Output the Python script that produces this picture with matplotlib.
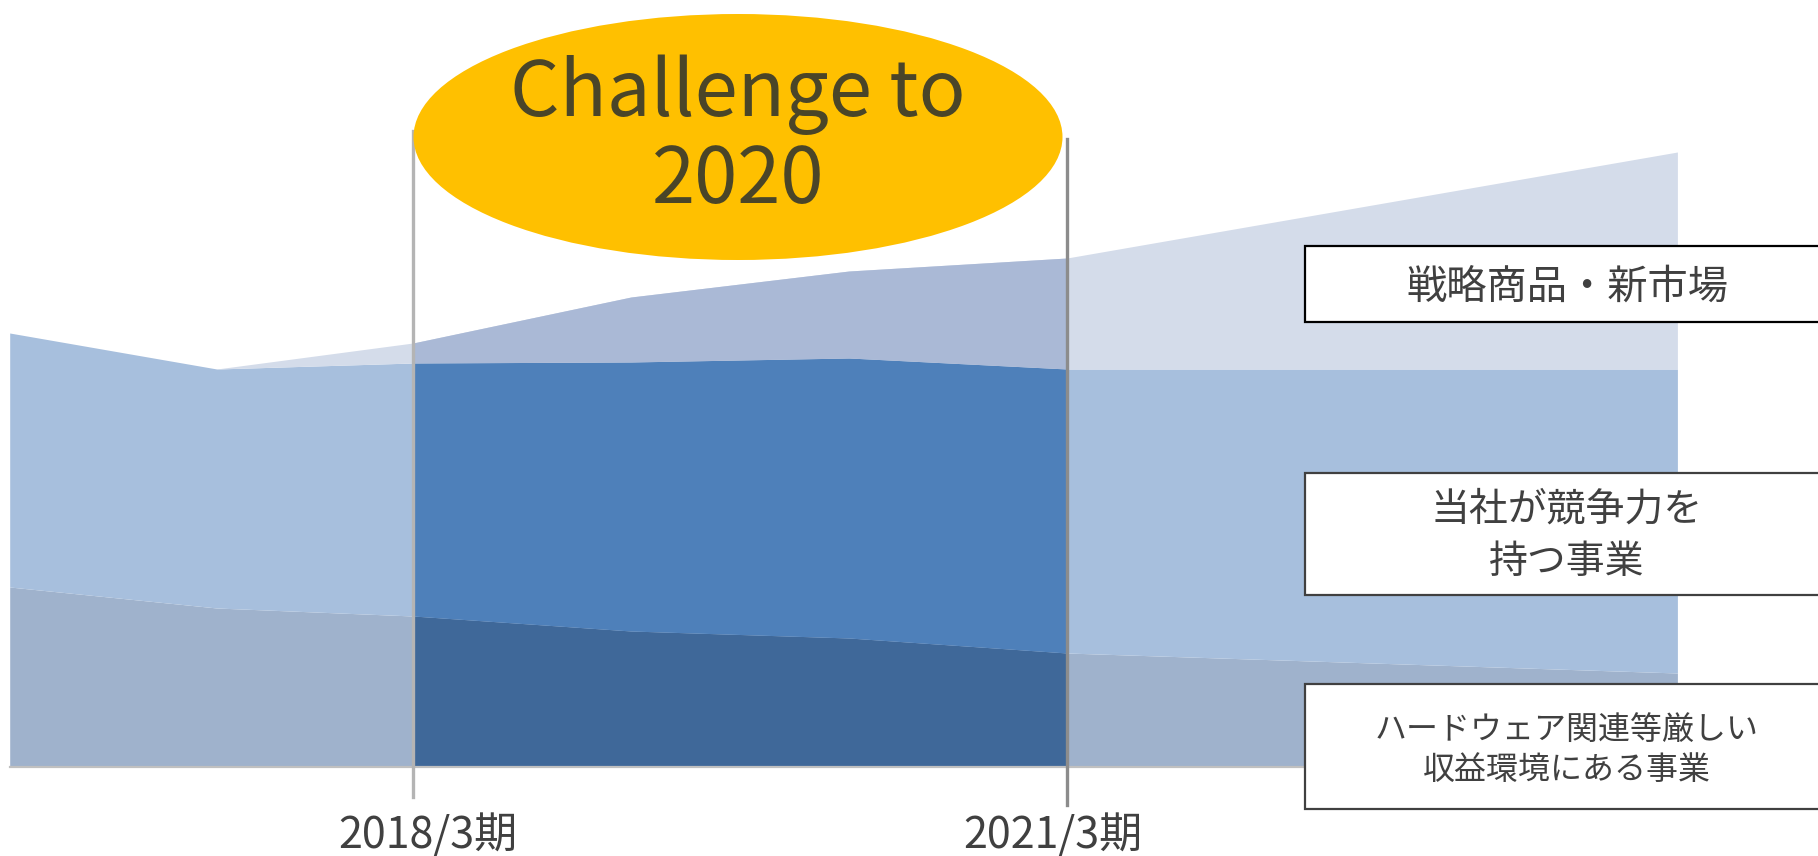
import matplotlib
matplotlib.use("Agg")
import matplotlib.pyplot as plt
from matplotlib.patches import Ellipse, Rectangle
import numpy as np

plt.rcParams['font.family'] = ['Noto Sans CJK JP', 'DejaVu Sans']

# ---- data (arbitrary units) ----
periods = [-1.85, -0.9, 0.0, 1.0, 2.0, 3.0, 5.8]          # 0 = 2018/3期, 3 = 2021/3期
hardware = [18.0, 15.9, 15.1, 13.6, 12.9, 11.4, 9.4]      # ハードウェア関連等厳しい収益環境にある事業
competitive = [25.4, 23.9, 25.3, 26.9, 28.0, 28.4, 30.4]  # 当社が競争力を持つ事業
strategic = [0.0, 0.0, 2.0, 6.5, 8.7, 11.1, 21.7]         # 戦略商品・新市場
tick_positions = [0.0, 3.0]
tick_labels = ["2018/3期", "2021/3期"]
box_labels = ["戦略商品・新市場", "当社が競争力を\n持つ事業", "ハードウェア関連等厳しい\n収益環境にある事業"]
ellipse_text = ["Challenge to", "2020"]

light_cols = ["#9FB2CC", "#A7BFDD", "#D4DCEA"]
dark_cols = ["#3F6899", "#4E80BA", "#AAB9D6"]

W, H = 1818, 856
fig = plt.figure(figsize=(W / 100, H / 100), dpi=100)
ax = fig.add_axes([0, 0, 1, 1])
ax.set_xlim(-413 / 218, (W - 413) / 218)
ax.set_ylim(-8.9, 76.7)
ax.axis('off')

x = np.array(periods)
b0 = np.zeros_like(x)
b1 = b0 + np.array(hardware)
b2 = b1 + np.array(competitive)
b3 = b2 + np.array(strategic)
layers = [(b0, b1), (b1, b2), (b2, b3)]

i0 = periods.index(tick_positions[0])
i1 = periods.index(tick_positions[1])
for (lo, hi), lc, dc in zip(layers, light_cols, dark_cols):
    ax.fill_between(x, lo, hi, color=lc, lw=0, zorder=1)
    ax.fill_between(x[i0:i1 + 1], lo[i0:i1 + 1], hi[i0:i1 + 1], color=dc, lw=0, zorder=2)

# baseline
ax.plot([x[0], x[-1]], [0, 0], color="#C0C0C0", lw=1.6, zorder=3)

# ellipse
fx = lambda px: px / W
fy = lambda py: 1 - py / H
ell = Ellipse((fx(738), fy(137)), 649 / W, 246 / H, transform=fig.transFigure,
              facecolor="#FFC000", edgecolor="none", zorder=4)
fig.patches.append(ell)
fig.text(fx(738), fy(95), ellipse_text[0], ha='center', va='center',
         fontsize=56, color="#4A4528", zorder=5)
fig.text(fx(738), fy(181), ellipse_text[1], ha='center', va='center',
         fontsize=56, color="#4A4528", zorder=5)

# vertical period lines
ax.plot([tick_positions[0]] * 2, [-3.0, 63.6], color="#B4B4B4", lw=2.4, zorder=6)
ax.plot([tick_positions[1]] * 2, [-3.8, 62.8], color="#8C8C8C", lw=2.4, zorder=6)

# period labels
for tp, off, lab in zip(tick_positions, [0.07, -0.065], tick_labels):
    ax.text(tp + off, -6.9, lab, ha='center', va='center', fontsize=31, color="#404040")

# label boxes
boxes = [(246, 322, "#000000", 29, [287]),
         (473, 595, "#404040", 28, [510, 562]),
         (684, 809, "#404040", 23, [730, 770])]
for (top, bot, ec, fs, ys), lab in zip(boxes, box_labels):
    r = Rectangle((fx(1305), fy(bot)), (W + 20 - 1305) / W, (bot - top) / H,
                  transform=fig.transFigure, facecolor="white", edgecolor=ec,
                  lw=1.6, zorder=7)
    fig.patches.append(r)
    for line, yy in zip(lab.split("\n"), ys):
        fig.text(fx(1567), fy(yy), line, ha='center', va='center', fontsize=fs,
                 color="#404040", zorder=8)

fig.savefig("out.png", dpi=100)
